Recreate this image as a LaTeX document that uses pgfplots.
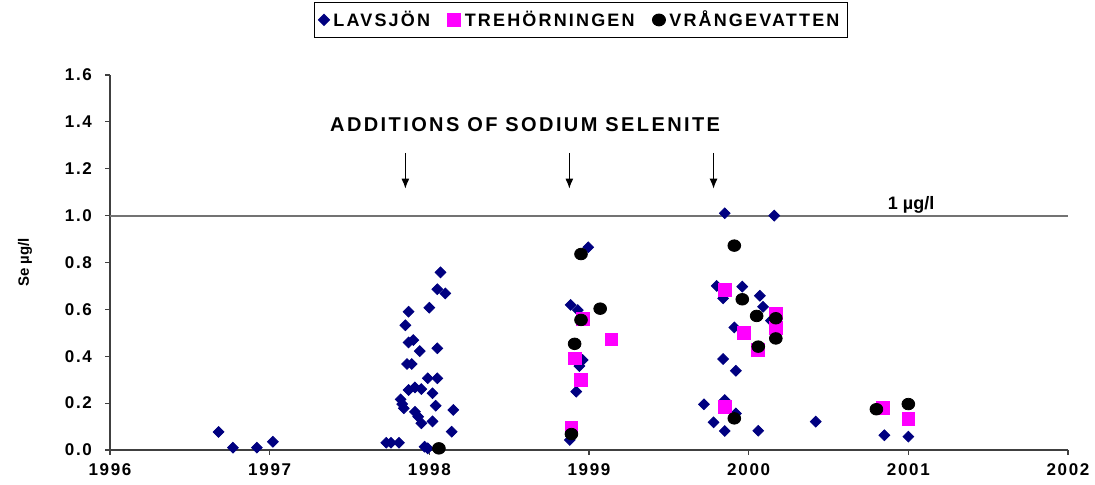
\documentclass[border=0pt]{standalone}
\usepackage{pgfplots}
\pgfplotsset{compat=1.18}
\usetikzlibrary{arrows.meta}
\usepackage{fontspec}
\setmainfont{Liberation Sans}
\newfontfamily\spfont[LetterSpace=12]{Liberation Sans}
\newfontfamily\tkfont[LetterSpace=10]{Liberation Sans}
\definecolor{navy}{RGB}{0,0,128}
\definecolor{mag}{RGB}{255,0,255}
\begin{document}
\begin{tikzpicture}
\begin{axis}[
  scale only axis,
  width=479pt, height=187.5pt,
  xmin=1996, xmax=2002, ymin=0, ymax=1.6,
  xtick={1996,1997,1998,1999,2000,2001,2002},
  xticklabels={1996,1997,1998,1999,2000,2001,2002},
  ytick={0,0.2,0.4,0.6,0.8,1.0,1.2,1.4,1.6},
  yticklabels={0.0,0.2,0.4,0.6,0.8,1.0,1.2,1.4,1.6},
  axis x line*=bottom, axis y line*=left,
  axis line style={black!75, line width=0.8pt},
  tick align=outside, major tick length=2.5pt,
  tick style={black!75, line width=0.6pt},
  ticklabel style={font=\tkfont\bfseries\fontsize{8.5}{10}\selectfont},
  yticklabel style={xshift=-3pt},
  xticklabel style={yshift=-1pt},
  ylabel={Se µg/l},
  ylabel style={font=\bfseries\fontsize{7.5}{8}\selectfont, at={(axis description cs:-0.0887,0.5)}, anchor=center},
  clip=false,
  legend columns=3,
  legend style={at={(axis description cs:0.4917,1)}, anchor=south, yshift=18.5pt,
    draw=black, line width=0.6pt, font=\spfont\bfseries\fontsize{9}{10}\selectfont,
    inner sep=2pt, /tikz/every even column/.append style={column sep=7pt}},
  legend cell align=left,
]
\addplot[only marks, mark=square*, mark size=1.9pt, mark options={rotate=45, fill=navy, draw=navy}] table {
x y
1996.68 0.077
1996.77 0.010
1996.92 0.010
1997.02 0.035
1997.73 0.031
1997.76 0.031
1997.81 0.031
1997.82 0.216
1997.83 0.196
1997.84 0.178
1997.85 0.532
1997.87 0.590
1997.87 0.459
1997.90 0.469
1997.86 0.367
1997.89 0.367
1997.87 0.256
1997.91 0.267
1997.95 0.260
1997.91 0.163
1997.93 0.142
1997.94 0.422
1997.95 0.114
1997.97 0.014
1997.99 0.007
1997.99 0.306
1998.00 0.607
1998.02 0.122
1998.02 0.242
1998.04 0.189
1998.05 0.306
1998.05 0.434
1998.05 0.686
1998.07 0.758
1998.10 0.668
1998.14 0.078
1998.15 0.171
1998.88 0.043
1998.885 0.619
1998.92 0.249
1998.93 0.597
1998.94 0.358
1998.96 0.384
1998.995 0.865
1999.72 0.195
1999.78 0.118
1999.80 0.700
1999.84 0.647
1999.84 0.388
1999.85 1.010
1999.85 0.213
1999.85 0.081
1999.91 0.523
1999.92 0.338
1999.92 0.156
1999.96 0.697
2000.06 0.082
2000.07 0.658
2000.09 0.611
2000.14 0.552
2000.16 1.000
2000.42 0.121
2000.85 0.063
2001.00 0.057
};
\addlegendentry{LAVSJÖN}
\addplot[only marks, mark=square*, mark size=3.2pt, mark options={fill=mag, draw=mag}] table {
x y
1998.89 0.093
1998.91 0.391
1998.95 0.299
1998.96 0.558
1999.14 0.472
1999.85 0.683
1999.85 0.185
1999.97 0.498
2000.06 0.427
2000.17 0.583
2000.17 0.522
2000.84 0.181
2001.00 0.131
};
\addlegendentry{TREHÖRNINGEN}
\addplot[only marks, mark=*, mark size=2.9pt, mark options={fill=black, draw=black, xscale=1.1}] table {
x y
1998.06 0.007
1998.89 0.068
1998.91 0.453
1998.95 0.555
1998.95 0.836
1999.07 0.603
1999.91 0.872
1999.91 0.135
1999.96 0.643
2000.05 0.572
2000.06 0.441
2000.17 0.562
2000.17 0.476
2000.80 0.174
2001.00 0.196
};
\addlegendentry{VRÅNGEVATTEN}
\addplot[forget plot, black!55, line width=1pt] coordinates {(1996,1.0) (2002,1.0)};
\draw[-{Latex[length=5pt,width=4pt]}, line width=0.6pt] (axis cs:1997.85,1.268) -- (axis cs:1997.85,1.115);
\draw[-{Latex[length=5pt,width=4pt]}, line width=0.6pt] (axis cs:1998.877,1.268) -- (axis cs:1998.877,1.115);
\draw[-{Latex[length=5pt,width=4pt]}, line width=0.6pt] (axis cs:1999.78,1.268) -- (axis cs:1999.78,1.115);
\node[font=\spfont\bfseries\fontsize{10}{11}\selectfont, inner sep=0pt] at (axis cs:1998.60,1.387) {ADDITIONS OF SODIUM SELENITE};
\node[font=\bfseries\fontsize{9}{10}\selectfont, inner sep=0pt, anchor=base west] at (axis cs:2000.87,1.024) {1 µg/l};
\end{axis}
\pgfresetboundingbox
\path[use as bounding box] (-55pt,-17.5pt) rectangle (492.5pt,225pt);
\end{tikzpicture}
\end{document}
